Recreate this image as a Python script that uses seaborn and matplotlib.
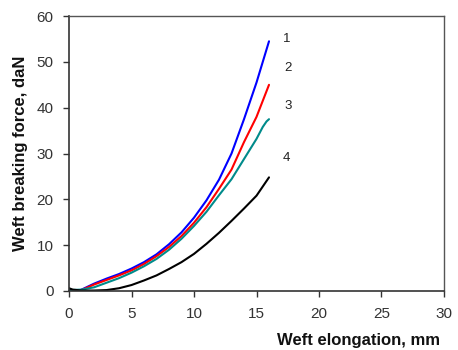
import matplotlib
matplotlib.use("Agg")
import matplotlib.pyplot as plt
import seaborn as sns
import pandas as pd

# Data
x1 = [0.8, 1, 2, 3, 4, 5, 6, 7, 8, 9, 10, 11, 12, 13, 14, 15, 16]
y1 = [0.0, 0.3, 1.6, 2.7, 3.7, 4.9, 6.3, 8.0, 10.2, 12.8, 16.0, 19.8, 24.3, 30.0, 37.5, 45.5, 54.5]
x2 = [0.8, 1, 2, 3, 4, 5, 6, 7, 8, 9, 10, 11, 12, 13, 14, 15, 16]
y2 = [0.0, 0.2, 1.4, 2.4, 3.4, 4.5, 5.9, 7.6, 9.6, 12.0, 14.9, 18.3, 22.3, 26.5, 32.5, 38.0, 45.0]
x3 = [0, 1, 2, 3, 4, 5, 6, 7, 8, 9, 10, 11, 12, 13, 14, 15, 15.5, 15.8, 16]
y3 = [0.2, 0.3, 0.8, 1.8, 2.8, 4.0, 5.4, 7.0, 9.0, 11.4, 14.2, 17.3, 20.9, 24.4, 28.8, 33.2, 35.8, 37.0, 37.5]
x4 = [0, 0.3, 1, 2, 3, 4, 5, 6, 7, 8, 9, 10, 11, 12, 13, 14, 15, 16]
y4 = [0.6, 0.3, 0.1, 0.1, 0.2, 0.6, 1.3, 2.3, 3.4, 4.8, 6.3, 8.1, 10.3, 12.7, 15.3, 18.0, 20.8, 24.8]
series = ["1", "2", "3", "4"]
colors = ["#0000FF", "#FF0000", "#008B8B", "#000000"]
label_pos_x = [17.1, 17.2, 17.2, 17.1]
label_pos_y = [55.0, 48.7, 40.4, 29.1]
xticks = [0, 5, 10, 15, 20, 25, 30]
yticks = [0, 10, 20, 30, 40, 50, 60]

frames = []
for name, xs, ys in zip(series, [x1, x2, x3, x4], [y1, y2, y3, y4]):
    frames.append(pd.DataFrame({"x": xs, "y": ys, "curve": name}))
df = pd.concat(frames, ignore_index=True)

sns.set_style("white")
plt.rcParams["font.family"] = ["Liberation Sans", "DejaVu Sans"]

fig = plt.figure(figsize=(4.58, 3.5), dpi=100)
ax = fig.add_axes([0.1507, 0.1686, 0.8187, 0.7854])

sns.lineplot(data=df, x="x", y="y", hue="curve", palette=dict(zip(series, colors)),
             estimator=None, sort=False, linewidth=1.5, legend=False, ax=ax)

for name, lx, ly in zip(series, label_pos_x, label_pos_y):
    ax.text(lx, ly, name, fontsize=9.5, color="#222222", ha="left", va="center")

ax.set_xlim(0, 30)
ax.set_ylim(0, 60)
ax.set_xticks(xticks)
ax.set_yticks(yticks)
ax.tick_params(axis="both", direction="out", length=4.5, width=1, labelsize=11,
               colors="#333333", labelcolor="#333333", bottom=True, left=True)
ax.tick_params(axis="x", pad=7)
ax.tick_params(axis="y", pad=6.5)
for side in ["left", "bottom"]:
    ax.spines[side].set_color("#333333")
    ax.spines[side].set_linewidth(1.2)
for side in ["top", "right"]:
    ax.spines[side].set_color("#555555")
    ax.spines[side].set_linewidth(1.0)

ax.set_xlabel("")
ax.set_ylabel("Weft breaking force, daN", fontsize=12, fontweight="bold", color="#111111")
ax.yaxis.set_label_coords(-0.109, 0.5)
fig.text(440 / 458, 1 - 340 / 350, "Weft elongation, mm", fontsize=12, fontweight="bold",
         color="#111111", ha="right", va="center")

fig.savefig("out.png", dpi=100)
